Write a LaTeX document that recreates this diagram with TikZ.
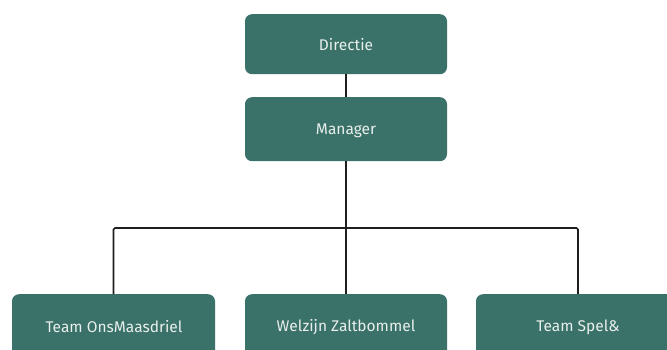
\documentclass[tikz,border=0pt]{standalone}
\usepackage{fontspec}
\setmainfont{Fira Sans}
\definecolor{boxteal}{HTML}{3A7168}
\definecolor{boxtext}{HTML}{E9EFED}
\definecolor{linec}{HTML}{1E1E1E}
\begin{document}
\begin{tikzpicture}[x=1pt,y=-1pt,
  orgbox/.style={fill=boxteal, rounded corners=7pt, minimum width=202pt, minimum height=62pt,
    inner sep=0pt, anchor=north},
  orglabel/.style={text=boxtext, font=\fontsize{15.5}{17}\selectfont},
  conn/.style={draw=linec, line width=1.6pt}]
\useasboundingbox (0,0) rectangle (667,350);
\clip (0,0) rectangle (667,350);
\fill[white] (0,0) rectangle (667,350);
\node[orgbox, minimum height=60pt] (dir) at (346,14) {};
\node[orglabel] (dirt) at (346,45) {Directie};
\node[orgbox, minimum height=64pt] (man) at (346,97) {};
\node[orglabel] (mant) at (346,131) {Manager};
\node[orgbox, minimum height=70pt, minimum width=203pt] (t1) at (113.5,294) {};
\node[orglabel] (t1t) at (114,327) {Team OnsMaasdriel};
\node[orgbox, minimum height=70pt] (t2) at (346,294) {};
\node[orglabel] (t2t) at (346,327) {Welzijn Zaltbommel};
\node[orgbox, minimum height=70pt, minimum width=204pt] (t3) at (578,294) {};
\node[orglabel] (t3t) at (578,327) {Team Spel\&};
\coordinate (bus) at (346,228);
\draw[conn] (dir.south) -- (man.north);
\draw[conn] (man.south) -- (bus);
\draw[conn] (bus) -- (t2.north);
\draw[conn, rounded corners=1.5pt] (t1.north) |- (bus);
\draw[conn, rounded corners=1.5pt] (bus) -| (t3.north);
\end{tikzpicture}
\end{document}
